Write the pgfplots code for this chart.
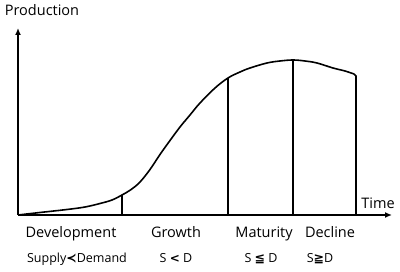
\documentclass[border=0pt]{standalone}
\usepackage{pgfplots}
\pgfplotsset{compat=1.18}
\usepackage{fontspec}
\setmainfont{Open Sans}
\newfontfamily\sym{DejaVu Sans}
\usetikzlibrary{arrows.meta}
\begin{document}
\begin{tikzpicture}
\begin{axis}[
  x=1pt, y=1pt,
  xmin=18, xmax=392, ymin=0, ymax=187,
  axis lines=left,
  axis line style={line width=1.6pt, -{Latex[length=7pt,width=6pt]}},
  xtick=\empty, ytick=\empty,
  clip=false,
]
\path (axis cs:0,-57) rectangle (axis cs:400,215);
% production curve
\addplot[black, line width=1.6pt, smooth, tension=0.6] coordinates {
 (18,0) (40,2.5) (67,5.5) (85,8) (100,11.5) (112,15) (122,20) (131,25.4) (140,33) (150,45.5) (160,60.5) (170,74.5) (180,88)
 (190,100) (200,112) (215,127) (228,137) (240,143) (250,147) (267,152)
 (280,154) (293,155) (305,154) (317,152) (333,147) (345,144) (354,141)
};
\addplot[black, line width=1.6pt] coordinates {(354,141) (356,139) (356,0)};
% stage dividers
\addplot[black, line width=1.3pt] coordinates {(122,0) (122,20)};
\addplot[black, line width=1.6pt] coordinates {(228,0) (228,137)};
\addplot[black, line width=1.6pt] coordinates {(293,0) (293,155)};
% labels
\tikzset{lab/.style={anchor=base, inner sep=0pt, font=\fontsize{14.5}{16}\selectfont},
         sub/.style={anchor=base, inner sep=0pt, font=\fontsize{12.5}{14}\selectfont}}
\node[lab] at (axis cs:42,199) {Production};
\node[lab] at (axis cs:378,6) {Time};
\node[lab] at (axis cs:71,-23) {Development};
\node[lab] at (axis cs:176,-23) {Growth};
\node[lab] at (axis cs:264,-23) {Maturity};
\node[lab] at (axis cs:330,-23) {Decline};
\node[sub] at (axis cs:77,-48) {Supply{\sym\bfseries ≺}Demand};
\node[sub] at (axis cs:176,-48) {S\ {\sym\bfseries\large <}\ D};
\node[sub] at (axis cs:261,-48) {S\ {\sym\bfseries ≦}\ D};
\node[sub] at (axis cs:320,-48) {S{\sym\bfseries ≧}D};
\end{axis}
\end{tikzpicture}
\end{document}
